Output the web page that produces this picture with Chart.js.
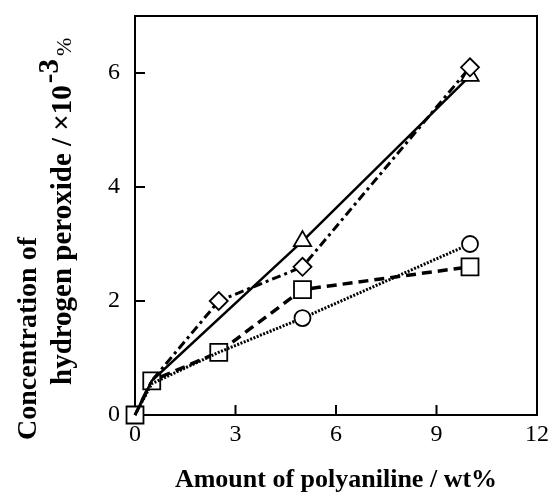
<!DOCTYPE html>
<html>
<head>
<meta charset="utf-8">
<script src="https://cdn.jsdelivr.net/npm/chart.js@4/dist/chart.umd.min.js"></script>
<style>
  html, body { margin: 0; padding: 0; background: #fff; }
  #wrap { width: 551px; height: 496px; }
</style>
</head>
<body>
<div id="wrap"><canvas id="chart"></canvas></div>
<script>
// ── Data ─────────────────────────────────
const xValues   = [0, 0.5, 2.5, 5, 10];
const circleY   = [0, 0.55, 1.1, 1.7, 3.0];
const squareY   = [0, 0.6, 1.1, 2.2, 2.6];
const diamondY  = [0, 0.6, 2.0, 2.6, 6.1];
const triangleX = [0, 0.5, 5, 10];
const triangleY = [0, 0.6, 3.05, 5.95];

const xTicks = [0, 3, 6, 9, 12];
const yTicks = [0, 2, 4, 6];

const xTitle      = 'Amount of polyaniline / wt%';
const yTitleLine1 = 'Concentration of';
const yTitleLine2 = 'hydrogen peroxide / ×10';
const yTitleSup   = '-3';
const yTitleUnit  = '%';

const SERIF = '"Liberation Serif", "Times New Roman", serif';

function toPoints(xs, ys) {
    return xs.map(function(x, i) { return { x: x, y: ys[i] }; });
}

// ── Frame + inward ticks ─────────────────
const framePlugin = {
    id: 'frame',
    beforeDatasetsDraw(chart) {
        const ctx = chart.ctx;
        const a = chart.chartArea;
        const xs = chart.scales.x, ys = chart.scales.y;
        ctx.save();
        ctx.strokeStyle = '#000';
        ctx.lineWidth = 2;
        ctx.strokeRect(a.left, a.top, a.right - a.left, a.bottom - a.top);
        ctx.beginPath();
        xTicks.forEach(function(v) {
            const px = xs.getPixelForValue(v);
            ctx.moveTo(px, a.bottom);
            ctx.lineTo(px, a.bottom - 10);
        });
        yTicks.forEach(function(v) {
            const py = ys.getPixelForValue(v);
            ctx.moveTo(a.left, py);
            ctx.lineTo(a.left + 10, py);
        });
        ctx.stroke();
        ctx.restore();
    }
};

// ── Two-line y title with superscript ────
const yTitlePlugin = {
    id: 'yTitle',
    afterDraw(chart) {
        const ctx = chart.ctx;
        ctx.save();
        ctx.fillStyle = '#000';
        ctx.textBaseline = 'alphabetic';
        ctx.textAlign = 'left';

        ctx.save();
        ctx.translate(36, 440);
        ctx.rotate(-Math.PI / 2);
        ctx.font = 'bold 28px ' + SERIF;
        ctx.fillText(yTitleLine1, 0, 0);
        ctx.restore();

        ctx.save();
        ctx.translate(71, 385);
        ctx.rotate(-Math.PI / 2);
        ctx.font = 'bold 29px ' + SERIF;
        ctx.fillText(yTitleLine2, 0, 0);
        let w = ctx.measureText(yTitleLine2).width + 2;
        ctx.fillText(yTitleSup, w, -13);
        w += ctx.measureText(yTitleSup).width + 3;
        ctx.font = '22px ' + SERIF;
        ctx.fillText(yTitleUnit, w, 0);
        ctx.restore();

        ctx.restore();
    }
};

// ── Chart ────────────────────────────────
const common = {
    borderColor: '#000',
    pointBackgroundColor: '#fff',
    pointBorderColor: '#000',
    pointBorderWidth: 1.8,
    fill: false,
    tension: 0,
    clip: false
};

new Chart(document.getElementById('chart'), {
    type: 'scatter',
    data: {
        datasets: [
            Object.assign({}, common, {
                label: 'diamond',
                data: toPoints(xValues, diamondY),
                showLine: true,
                borderWidth: 3,
                borderDash: [9, 4, 3, 4],
                pointStyle: 'rectRot',
                pointRadius: [0, 0, 9, 9, 9]
            }),
            Object.assign({}, common, {
                label: 'triangle',
                data: toPoints(triangleX, triangleY),
                showLine: true,
                borderWidth: 2.5,
                pointStyle: 'triangle',
                pointRadius: [0, 0, 10, 10]
            }),
            Object.assign({}, common, {
                label: 'circle',
                data: toPoints(xValues, circleY),
                showLine: true,
                borderWidth: 3,
                borderDash: [2, 1.5],
                pointStyle: 'circle',
                pointRadius: [0, 0, 0, 8, 8]
            }),
            Object.assign({}, common, {
                label: 'square',
                data: toPoints(xValues, squareY),
                showLine: true,
                borderWidth: 3.5,
                borderDash: [10, 6],
                pointStyle: 'rect',
                pointRadius: 12
            })
        ]
    },
    options: {
        responsive: true,
        maintainAspectRatio: false,
        animation: false,
        layout: { padding: { top: 16, right: 14, left: 0, bottom: 0 } },
        plugins: {
            legend: { display: false },
            tooltip: { enabled: false }
        },
        scales: {
            x: {
                type: 'linear',
                min: 0,
                max: 12,
                afterBuildTicks: function(scale) {
                    scale.ticks = xTicks.map(function(v) { return { value: v }; });
                },
                afterFit: function(scale) {
                    scale.height = 81;
                    scale.paddingLeft = 0;
                    scale.paddingRight = 0;
                },
                grid: { display: false, drawTicks: false },
                border: { display: false },
                ticks: {
                    padding: 5,
                    color: '#000',
                    font: { family: SERIF, size: 24 },
                    maxRotation: 0
                },
                title: {
                    display: true,
                    text: xTitle,
                    color: '#000',
                    font: { family: SERIF, size: 26, weight: 'bold', lineHeight: 1.2 },
                    padding: { top: 0, bottom: 0 }
                }
            },
            y: {
                type: 'linear',
                min: 0,
                max: 7,
                afterBuildTicks: function(scale) {
                    scale.ticks = yTicks.map(function(v) { return { value: v }; });
                },
                afterFit: function(scale) {
                    scale.width = 135;
                    scale.paddingTop = 0;
                    scale.paddingBottom = 0;
                },
                grid: { display: false, drawTicks: false },
                border: { display: false },
                ticks: {
                    padding: 15,
                    color: '#000',
                    font: { family: SERIF, size: 24 }
                }
            }
        }
    },
    plugins: [framePlugin, yTitlePlugin]
});
</script>
</body>
</html>
